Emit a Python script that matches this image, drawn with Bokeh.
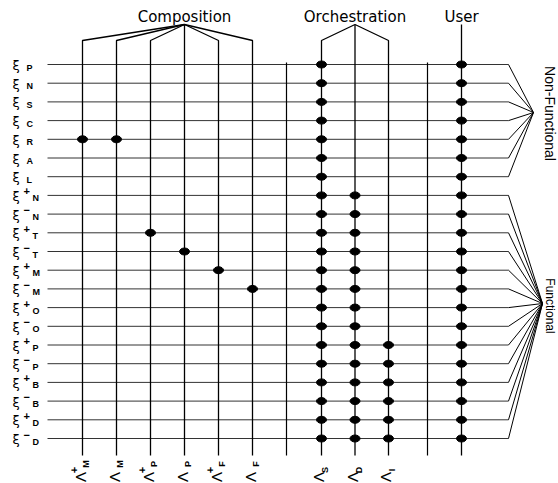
import math
from bokeh.plotting import figure
from bokeh.models import Range1d
from bokeh.core.properties import value
from bokeh.embed import file_html
from bokeh.resources import INLINE

# ---------------- data ----------------
row_letters = ["P", "N", "S", "C", "R", "A", "L",
               "N", "N", "T", "T", "M", "M", "O", "O", "P", "P", "B", "B", "D", "D"]
row_signs = [""] * 7 + ["+", "−"] * 7
row_groups = ["Non-Functional"] * 7 + ["Functional"] * 14

comp_letters = ["M", "M", "P", "P", "F", "F"]
comp_signs = ["+", "", "+", "", "+", ""]
orch_letters = ["S", "D", "I"]
group_titles = ["Composition", "Orchestration", "User"]

# rows (by index) marked in each column
comp_marks = [[4], [4], [9], [10], [11], [12]]
orch_marks = [list(range(0, 21)), list(range(7, 21)), list(range(15, 21))]
user_marks = list(range(0, 21))

# ---------------- layout ----------------
ROW_Y0, ROW_DY = 64.0, 18.7
row_y = [ROW_Y0 + ROW_DY * i for i in range(len(row_letters))]
comp_x = [82, 116, 150, 184, 218, 252]
orch_x = [321, 354.5, 388]
user_x = 461
sep_x = [286, 427]
ROW_X0, ROW_X1 = 47, 508
BRACKET_TOP, BRACKET_KNEE, COL_BOTTOM = 24, 40, 455
conv = {"Non-Functional": (533, 112), "Functional": (542, 303)}

W, H = 558, 483
p = figure(width=W, height=H, x_range=Range1d(0, W), y_range=Range1d(H, 0),
           output_backend="svg", toolbar_location=None, min_border=0,
           x_axis_location=None, y_axis_location=None)
p.grid.visible = False
p.outline_line_color = None
p.background_fill_color = "white"
p.border_fill_color = "white"

# row lines
p.segment(x0=[ROW_X0] * len(row_y), x1=[ROW_X1] * len(row_y), y0=row_y, y1=row_y,
          line_color="#333333", line_width=1)
# connectors to groups
cx = [conv[g][0] for g in row_groups]
cy = [conv[g][1] for g in row_groups]
p.segment(x0=[ROW_X1] * len(row_y), y0=row_y, x1=cx, y1=cy, line_color="black", line_width=1)

# composition / orchestration brackets + columns
apex_c = comp_x[3]
xs, ys = [], []
for x in comp_x:
    if x == apex_c:
        xs.append([x, x]); ys.append([BRACKET_TOP, COL_BOTTOM])
    else:
        xs.append([apex_c, x, x]); ys.append([BRACKET_TOP, BRACKET_KNEE, COL_BOTTOM])
apex_o = orch_x[1]
for x in orch_x:
    if x == apex_o:
        xs.append([x, x]); ys.append([BRACKET_TOP, COL_BOTTOM])
    else:
        xs.append([apex_o, x, x]); ys.append([BRACKET_TOP, BRACKET_KNEE, COL_BOTTOM])
xs.append([user_x, user_x]); ys.append([BRACKET_TOP, COL_BOTTOM])
p.multi_line(xs=xs, ys=ys, line_color="black", line_width=1.3)
# separators
p.segment(x0=sep_x, x1=sep_x, y0=[row_y[0] - 2] * 2, y1=[COL_BOTTOM] * 2,
          line_color="black", line_width=1.2)

# dots
dx, dy = [], []
for ci, rows in enumerate(comp_marks):
    for r in rows:
        dx.append(comp_x[ci]); dy.append(row_y[r])
for ci, rows in enumerate(orch_marks):
    for r in rows:
        dx.append(orch_x[ci]); dy.append(row_y[r])
for r in user_marks:
    dx.append(user_x); dy.append(row_y[r])
p.ellipse(x=dx, y=dy, width=10, height=7, fill_color="black", line_color="black")

FONT = value("Liberation Sans")

# row labels
p.text(x=[12] * len(row_y), y=[y + 1 for y in row_y], text=["ξ"] * len(row_y),
       text_font=value("DejaVu Sans"), text_font_size="13px", text_align="left",
       text_baseline="middle", text_color="black")
sx, sy, st = [], [], []
for y, s in zip(row_y, row_signs):
    if s:
        sx.append(23); sy.append(y - 4); st.append(s)
p.text(x=sx, y=sy, text=st, text_font=FONT, text_font_size="11px", text_font_style="bold",
       text_align="left", text_baseline="middle", text_color="black")
p.text(x=[(32 if s else 26) for s in row_signs], y=[y + 3 for y in row_y], text=row_letters,
       text_font=FONT, text_font_size="9px", text_font_style="bold",
       text_align="left", text_baseline="middle", text_color="black")

# column labels (rotated)
A = math.pi / 2
lam_x = [x - 2 for x in comp_x] + [x - 3 for x in orch_x]
p.text(x=lam_x, y=[476.5] * len(lam_x), text=["Λ"] * len(lam_x), angle=A,
       text_font=FONT, text_font_size="15px", text_align="center", text_baseline="middle",
       text_color="black")
px_, py_, pt_ = [], [], []
for x, s in zip(comp_x, comp_signs):
    if s:
        px_.append(x - 8.5); py_.append(469.5); pt_.append(s)
p.text(x=px_, y=py_, text=pt_, angle=A, text_font=FONT, text_font_size="11px",
       text_font_style="bold", text_align="center", text_baseline="middle", text_color="black")
p.text(x=[x + 3.5 for x in comp_x] + [x + 3.5 for x in orch_x],
       y=[463.5] * len(comp_x) + [469.5] * len(orch_x),
       text=comp_letters + orch_letters, angle=A, text_font=FONT, text_font_size="9px",
       text_font_style="bold", text_align="center", text_baseline="middle", text_color="black")

# group titles
p.text(x=[apex_c, apex_o, user_x], y=[16, 16, 16], text=group_titles,
       text_font=value("DejaVu Sans"), text_font_size="15px", text_align="center",
       text_baseline="middle", text_color="black")

# side labels
p.text(x=[549], y=[113], text=["Non-Functional"], angle=-A, text_font=FONT,
       text_font_size="14px", text_align="center", text_baseline="middle", text_color="black")
p.text(x=[549], y=[305.5], text=["Functional"], angle=-A, text_font=FONT,
       text_font_size="12px", text_align="center", text_baseline="middle", text_color="black")

open("out.html", "w").write(file_html(p, INLINE))
